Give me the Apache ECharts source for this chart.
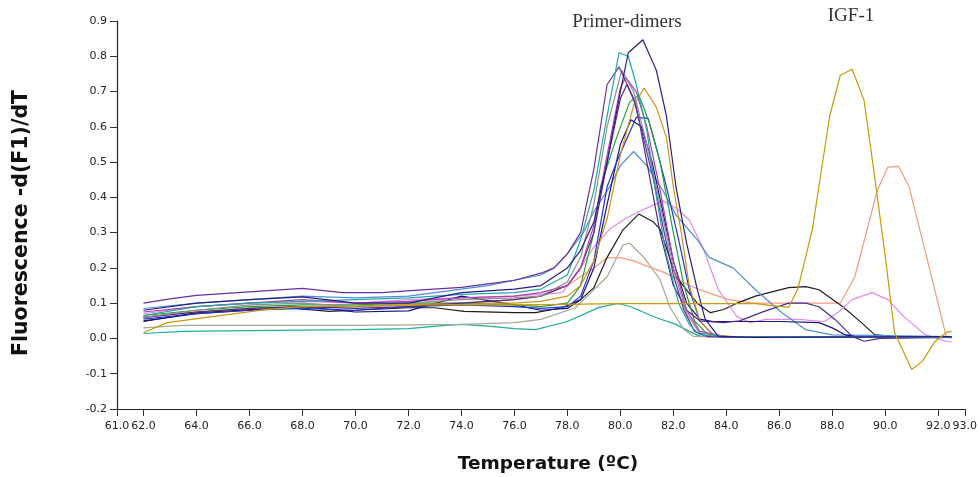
<!DOCTYPE html>
<html><head><meta charset="utf-8">
<script src="https://cdn.jsdelivr.net/npm/echarts@6/dist/echarts.min.js"></script>
<style>html,body{margin:0;padding:0;background:#fff}#c{width:980px;height:477px}</style>
</head><body><div id="c"></div>
<script>
// x tick labels
const xTicks = [61, 62, 64, 66, 68, 70, 72, 74, 76, 78, 80, 82, 84, 86, 88, 90, 92, 93];

// melt curves: [temperature, -d(F1)/dT]
const purple = [[62,0.1],[63,0.112],[64,0.122],[66,0.132],[68,0.142],[69.5,0.13],[71,0.13],[72.5,0.138],[74,0.145],[75,0.155],[76,0.165],[77,0.185],[77.5,0.2],[78,0.24],[78.5,0.3],[79,0.48],[79.5,0.72],[79.95,0.77],[80.5,0.68],[80.9,0.56],[81.25,0.45],[81.6,0.32],[82,0.18],[82.4,0.08],[82.8,0.02],[83.3,0.005],[85,0.003],[92.5,0.004]];
const navyTall = [[62,0.08],[64,0.1],[66,0.11],[68,0.118],[70,0.1],[72,0.1],[74,0.13],[76,0.14],[77,0.15],[78,0.2],[78.5,0.25],[79,0.33],[79.5,0.5],[80,0.7],[80.3,0.81],[80.85,0.847],[81.36,0.76],[81.74,0.63],[82.1,0.43],[82.5,0.27],[82.9,0.14],[83.2,0.055],[83.7,0.006],[85,0.003],[92.5,0.005]];
const teal = [[62,0.065],[64,0.09],[66,0.1],[68,0.105],[70,0.11],[72,0.115],[74,0.125],[76,0.13],[77,0.14],[78,0.18],[78.5,0.28],[79,0.42],[79.4,0.59],[79.8,0.75],[79.95,0.81],[80.3,0.8],[80.6,0.72],[81,0.59],[81.3,0.43],[81.7,0.25],[82.2,0.1],[82.6,0.04],[83,0.01],[84,0.005],[92.5,0.004]];
const grayDark = [[62,0.06],[64,0.08],[66,0.095],[68,0.1],[70,0.09],[72,0.1],[74,0.11],[76,0.115],[77,0.12],[78,0.16],[78.5,0.23],[79,0.38],[79.5,0.6],[80.05,0.76],[80.5,0.7],[81,0.55],[81.5,0.38],[82,0.2],[82.5,0.07],[83,0.015],[84,0.005],[92.5,0.004]];
const magenta = [[62,0.075],[64,0.09],[66,0.1],[68,0.11],[70,0.1],[72,0.105],[74,0.115],[76,0.12],[77,0.13],[78,0.15],[78.5,0.2],[79,0.32],[79.5,0.52],[80,0.71],[80.2,0.74],[80.6,0.7],[81,0.6],[81.5,0.42],[82,0.22],[82.5,0.08],[83,0.02],[84,0.005],[92.5,0.005]];
const orange = [[62,0.06],[64,0.075],[66,0.085],[68,0.09],[70,0.09],[72,0.095],[74,0.1],[76,0.1],[77,0.105],[78,0.12],[78.5,0.15],[79,0.22],[79.5,0.34],[80,0.52],[80.5,0.66],[80.9,0.71],[81.36,0.655],[81.74,0.57],[82,0.43],[82.3,0.3],[82.6,0.15],[83,0.05],[83.5,0.01],[84.5,0.004],[92.5,0.004]];
const green = [[62,0.065],[64,0.08],[66,0.09],[68,0.095],[70,0.095],[72,0.1],[74,0.1],[76,0.095],[77,0.09],[78,0.1],[78.5,0.15],[79,0.3],[79.25,0.43],[79.86,0.57],[80.35,0.67],[80.7,0.69],[81.1,0.61],[81.5,0.5],[82,0.3],[82.4,0.15],[82.8,0.05],[83.3,0.01],[84,0.005],[92.5,0.004]];
const blue = [[62,0.055],[64,0.07],[66,0.08],[68,0.085],[70,0.08],[72,0.09],[74,0.095],[76,0.09],[77,0.085],[78,0.09],[78.5,0.12],[79,0.22],[79.5,0.43],[79.86,0.5],[80.6,0.627],[81.05,0.624],[81.36,0.54],[81.74,0.43],[82.2,0.28],[82.6,0.14],[83,0.05],[83.5,0.01],[84,0.003],[92.5,0.003]];
const steelBlue = [[62,0.085],[64,0.1],[66,0.11],[68,0.12],[70,0.115],[72,0.12],[74,0.14],[75,0.15],[76,0.165],[77,0.18],[77.5,0.2],[78,0.24],[78.6,0.3],[79,0.36],[79.6,0.43],[80,0.49],[80.5,0.53],[81,0.49],[81.6,0.42],[82.1,0.35],[82.9,0.28],[83.35,0.23],[84.25,0.2],[85.1,0.138],[86.1,0.073],[87,0.025],[88,0.01],[92.5,0.005]];
const pink = [[62,0.07],[64,0.09],[66,0.1],[68,0.105],[70,0.1],[72,0.11],[74,0.115],[76,0.12],[77,0.125],[77.8,0.13],[78.5,0.2],[79,0.26],[79.6,0.31],[80.2,0.34],[80.7,0.36],[81.25,0.378],[81.6,0.39],[82.1,0.37],[82.6,0.336],[83.1,0.26],[83.7,0.138],[84.4,0.062],[84.9,0.045],[85.5,0.054],[86.7,0.054],[87.7,0.048],[88.2,0.073],[88.75,0.11],[89.5,0.13],[90.1,0.11],[90.7,0.062],[91.5,0.011],[92.3,-0.008],[92.5,-0.01]];
const black = [[62,0.048],[64,0.073],[66,0.082],[67.4,0.087],[69,0.077],[70,0.08],[72,0.087],[73,0.087],[74.1,0.077],[76,0.073],[76.8,0.073],[77.8,0.087],[78.5,0.11],[79,0.144],[79.5,0.23],[80.1,0.308],[80.7,0.353],[81.25,0.33],[81.5,0.31],[82.1,0.175],[82.9,0.1],[83.4,0.073],[83.9,0.082],[84.4,0.1],[85.1,0.12],[86.35,0.144],[87,0.147],[87.5,0.138],[88.4,0.09],[89.1,0.045],[89.6,0.011],[90.5,0.004],[92.5,0.004]];
const grayLight = [[62,0.03],[63.5,0.037],[66,0.037],[70,0.037],[74,0.04],[76,0.045],[77,0.054],[78.3,0.087],[79.5,0.175],[80.1,0.265],[80.35,0.27],[80.9,0.229],[81.5,0.167],[81.86,0.09],[82.4,0.025],[82.75,0.006],[84,0.004],[92.5,0.004]];
const salmon = [[62,0.06],[64,0.075],[66,0.085],[68,0.09],[70,0.09],[72,0.095],[74,0.1],[76,0.11],[77,0.12],[78,0.15],[79,0.2],[79.5,0.229],[80,0.229],[80.5,0.22],[81,0.205],[81.7,0.186],[82.6,0.15],[83.3,0.13],[84.1,0.11],[85,0.1],[86,0.1],[87,0.1],[88.3,0.1],[88.85,0.175],[89.7,0.42],[90.1,0.486],[90.5,0.488],[90.9,0.43],[91.5,0.25],[92.3,0.006],[92.5,0.0]];
const gold = [[62,0.017],[62.9,0.045],[64.6,0.062],[66.6,0.082],[68,0.09],[70,0.092],[72,0.095],[74,0.095],[76,0.095],[77,0.096],[80,0.099],[82,0.099],[85.1,0.099],[86.35,0.088],[86.7,0.14],[87.25,0.31],[87.9,0.63],[88.3,0.746],[88.75,0.763],[89.2,0.675],[89.6,0.458],[90,0.232],[90.35,0.017],[91,-0.088],[91.4,-0.065],[91.85,-0.011],[92.3,0.017],[92.5,0.02]];
const tealGreen = [[62,0.014],[63.5,0.02],[66,0.022],[70,0.025],[72,0.028],[73.4,0.037],[74,0.04],[75,0.035],[76,0.028],[76.8,0.025],[78,0.048],[79.2,0.088],[79.9,0.099],[80.4,0.09],[81,0.07],[81.5,0.055],[82.1,0.04],[82.6,0.02],[83,0.006],[84,0.004],[92.5,0.004]];
const darkViolet = [[62,0.06],[64,0.075],[66,0.085],[68,0.09],[70,0.085],[72,0.09],[74,0.1],[76,0.11],[77,0.12],[78,0.15],[78.5,0.2],[79,0.3],[79.5,0.5],[80,0.68],[80.25,0.72],[80.6,0.66],[81,0.5],[81.5,0.3],[82,0.15],[82.5,0.08],[83,0.05],[83.9,0.045],[84.5,0.05],[85.4,0.076],[86.35,0.1],[87,0.1],[87.5,0.09],[88.1,0.054],[88.75,0.006],[89.2,-0.008],[89.8,0.0],[92.5,0.003]];
const navyFlat = [[62,0.05],[64,0.07],[66,0.08],[68,0.09],[70,0.075],[72,0.078],[74,0.12],[76,0.095],[77,0.08],[78,0.085],[78.5,0.11],[79,0.2],[79.5,0.38],[80,0.55],[80.4,0.62],[80.8,0.6],[81.2,0.5],[81.6,0.36],[82,0.22],[82.5,0.1],[83,0.055],[83.5,0.048],[86,0.048],[87.5,0.045],[88,0.03],[88.5,0.01],[89,0.004],[92.5,0.005]];

const curves = [
  ['tealGreen', tealGreen, '#1FAF98'],
  ['grayLight', grayLight, '#A9A793'],
  ['salmon', salmon, '#F29C7C'],
  ['black', black, '#1E1E1E'],
  ['pink', pink, '#E48CE4'],
  ['steelBlue', steelBlue, '#4E8ED6'],
  ['navyFlat', navyFlat, '#15157E'],
  ['blue', blue, '#2233DD'],
  ['green', green, '#22A03A'],
  ['orange', orange, '#D4901A'],
  ['darkViolet', darkViolet, '#4A2A90'],
  ['magenta', magenta, '#B43CB4'],
  ['grayDark', grayDark, '#8E8E8E'],
  ['purple', purple, '#6B2FA3'],
  ['teal', teal, '#20A8A8'],
  ['navyTall', navyTall, '#2B1B86'],
  ['gold', gold, '#C99A06']
];

const chart = echarts.init(document.getElementById('c'), null, {renderer: 'canvas'});
const fmt = v => (Math.abs(v) < 1e-9 ? '0.0' : v.toFixed(1));
chart.setOption({
  animation: false,
  backgroundColor: '#fff',
  grid: {left: 117, right: 11, top: 21, bottom: 68},
  xAxis: {
    type: 'value', min: 61, max: 93,
    axisLine: {show: true, onZero: false, lineStyle: {color: '#222', width: 1.2}},
    axisTick: {show: true, customValues: xTicks, length: 7, lineStyle: {color: '#333'}},
    axisLabel: {customValues: xTicks, formatter: fmt, margin: 12, color: '#222',
      fontFamily: 'DejaVu Sans', fontSize: 11},
    splitLine: {show: false}
  },
  yAxis: {
    type: 'value', min: -0.2, max: 0.9, interval: 0.1,
    axisLine: {show: true, onZero: false, lineStyle: {color: '#222', width: 1.2}},
    axisTick: {show: true, length: 7, lineStyle: {color: '#333'}},
    axisLabel: {formatter: fmt, margin: 10, color: '#222', fontFamily: 'DejaVu Sans', fontSize: 11},
    splitLine: {show: false}
  },
  graphic: [
    {type: 'text', x: 22, y: 223, rotation: Math.PI / 2,
      style: {text: 'Fluorescence -d(F1)/dT', font: 'bold 20.5px "DejaVu Sans"', fill: '#111',
        align: 'center', verticalAlign: 'middle'}},
    {type: 'text', x: 548, y: 464,
      style: {text: 'Temperature (ºC)', font: 'bold 18.5px "DejaVu Sans"', fill: '#111',
        align: 'center', verticalAlign: 'middle'}},
    {type: 'text', x: 627, y: 22,
      style: {text: 'Primer-dimers', font: '19px "Liberation Serif"', fill: '#333',
        align: 'center', verticalAlign: 'middle'}},
    {type: 'text', x: 851, y: 16,
      style: {text: 'IGF-1', font: '19px "Liberation Serif"', fill: '#333',
        align: 'center', verticalAlign: 'middle'}}
  ],
  series: curves.map(([name, data, color]) => ({
    name, type: 'line', data, showSymbol: false, smooth: false,
    lineStyle: {color, width: 1.2}, itemStyle: {color}
  }))
});
</script></body></html>
